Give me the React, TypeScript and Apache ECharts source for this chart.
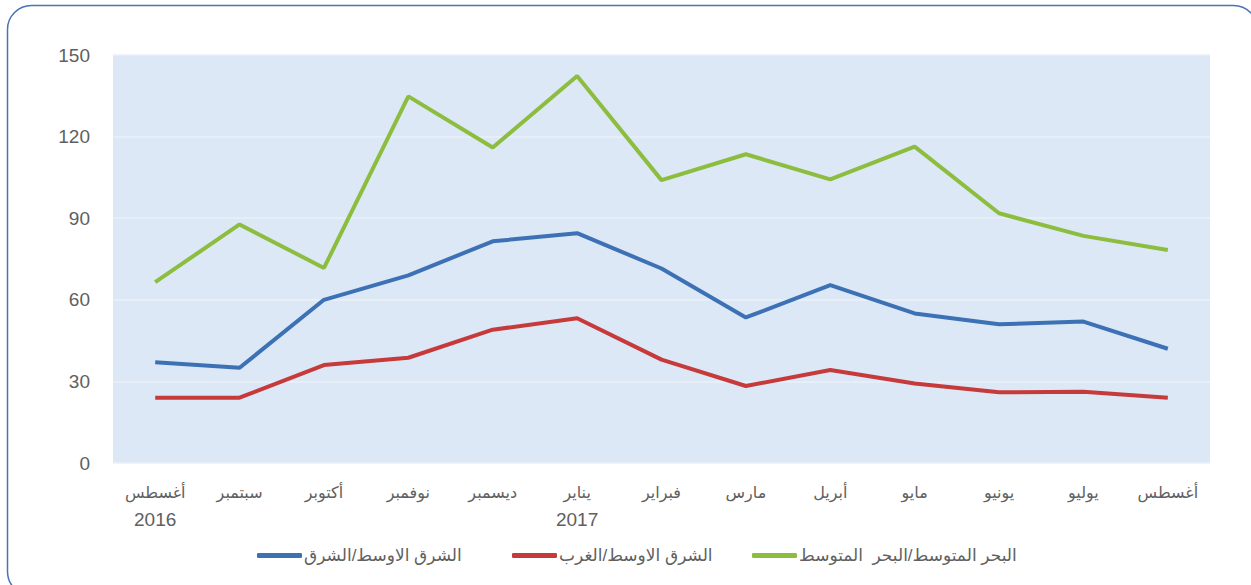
import React, { useEffect, useRef } from "react";
import * as echarts from "echarts";

const months = ["أغسطس", "سبتمبر", "أكتوبر", "نوفمبر", "ديسمبر", "يناير", "فبراير", "مارس", "أبريل", "مايو", "يونيو", "يوليو", "أغسطس"];
const years = ["2016", "", "", "", "", "2017", "", "", "", "", "", "", ""];
const yTicks = [0, 30, 60, 90, 120, 150];

const seriesNames = ["الشرق الاوسط/الشرق", "الشرق الاوسط/الغرب", "البحر المتوسط/البحر  المتوسط"];
const eastValues = [37, 35, 60, 69, 81.5, 84.5, 71.5, 53.5, 65.4, 55, 51, 52, 42];
const westValues = [24, 24, 36, 38.7, 49, 53.2, 38, 28.3, 34.2, 29.2, 26, 26.2, 24];
const medValues = [66.5, 87.7, 71.7, 134.8, 116, 142.3, 104, 113.5, 104.3, 116.3, 91.8, 83.5, 78.3];
const colors = ["#3c71b5", "#c63a3b", "#8dbd3e"];
const legendLefts = [252, 507, 747];

const FONT = "'Liberation Sans', 'DejaVu Sans', Arial, sans-serif";
const TEXT = "#606060";

export default function App() {
  const ref = useRef<HTMLDivElement>(null);
  useEffect(() => {
    if (!ref.current) return;
    const chart = echarts.init(ref.current, null, { renderer: "svg" });
    const labels = months.map((m, i) => (years[i] ? m + "\n{y|" + years[i] + "}" : m));
    const values = [eastValues, westValues, medValues];
    chart.setOption({
      animation: false,
      backgroundColor: "#ffffff",
      graphic: [
        {
          type: "rect",
          shape: { x: 7.5, y: 5.5, width: 1250, height: 590, r: 24 },
          style: { fill: "none", stroke: "#4a73b8", lineWidth: 1.5 },
          silent: true,
        },
      ],
      grid: {
        left: 113,
        right: 41,
        top: 55,
        bottom: 122,
        show: true,
        backgroundColor: "#dce8f6",
        borderWidth: 0,
      },
      legend: seriesNames.map((name, i) => ({
        left: legendLefts[i],
        top: 542,
        itemWidth: 45,
        itemHeight: 5,
        itemGap: 2,
        icon: "roundRect",
        data: [name],
        textStyle: { color: TEXT, fontSize: 17, fontFamily: FONT, padding: [0, 0, 0, -3] },
      })),
      xAxis: {
        type: "category",
        data: labels,
        boundaryGap: true,
        axisLine: { show: false },
        axisTick: { show: false },
        axisLabel: {
          color: TEXT,
          fontSize: 16,
          fontFamily: FONT,
          margin: 16,
          lineHeight: 27,
          interval: 0,
          rich: { y: { fontSize: 19, fontFamily: FONT, color: TEXT, lineHeight: 27 } },
        },
      },
      yAxis: {
        type: "value",
        min: yTicks[0],
        max: yTicks[yTicks.length - 1],
        interval: yTicks[1] - yTicks[0],
        axisLine: { show: false },
        axisTick: { show: false },
        axisLabel: { color: TEXT, fontSize: 19, fontFamily: FONT, margin: 23 },
        splitLine: { lineStyle: { color: "#ebf1f8", width: 1.5 } },
      },
      series: seriesNames.map((name, i) => ({
        name,
        type: "line",
        data: values[i],
        symbol: "none",
        lineStyle: { color: colors[i], width: 4 },
        itemStyle: { color: colors[i] },
      })),
    });
    return () => chart.dispose();
  }, []);
  return <div ref={ref} style={{ width: 1251, height: 585, position: "absolute", left: 0, top: 0 }} />;
}
